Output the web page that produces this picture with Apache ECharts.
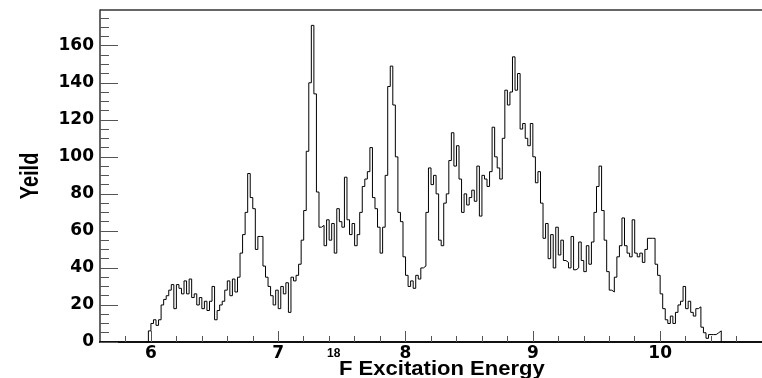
<!DOCTYPE html>
<html>
<head>
<meta charset="utf-8">
<script src="https://cdn.jsdelivr.net/npm/echarts@6/dist/echarts.min.js"></script>
<style>
  html, body { margin: 0; padding: 0; background: #fff; }
  #chart { width: 762px; height: 378px; }
</style>
</head>
<body>
<div id="chart"></div>
<script>
// histogram bins: left edge of first bin and bin width (MeV)
const binStart = 5.98
const binWidth = 0.02
const counts = [
  6, 10, 12, 9, 12, 20, 23, 25, 28, 31, 18, 31, 29, 26, 33, 26, 34, 24, 26, 20,
  24, 18, 22, 17, 22, 30, 12, 17, 20, 22, 28, 33, 25, 34, 27, 35, 48, 58, 70, 91,
  78, 72, 50, 57, 57, 41, 35, 30, 25, 20, 28, 18, 30, 26, 32, 16, 35, 33, 36, 42,
  55, 71, 103, 140, 171, 134, 81, 62, 63, 52, 66, 55, 64, 48, 72, 65, 62, 89, 66, 58,
  64, 52, 58, 70, 84, 88, 92, 105, 78, 72, 62, 48, 62, 90, 138, 149, 128, 100, 70, 65,
  46, 36, 30, 33, 29, 36, 34, 40, 41, 70, 94, 85, 90, 80, 55, 52, 75, 80, 98, 113,
  95, 106, 88, 70, 80, 74, 78, 82, 76, 95, 68, 90, 88, 84, 92, 116, 100, 94, 88, 110,
  136, 128, 135, 154, 136, 145, 115, 118, 110, 106, 118, 100, 86, 92, 75, 56, 64, 45, 58, 40,
  62, 47, 55, 44, 43, 40, 57, 39, 40, 54, 44, 38, 52, 42, 54, 70, 84, 95, 71, 55,
  38, 28, 27, 35, 46, 52, 67, 52, 48, 46, 66, 48, 46, 48, 43, 50, 56, 56, 56, 42,
  36, 26, 18, 12, 10, 14, 10, 16, 20, 22, 30, 18, 22, 16, 14, 18, 19, 8, 5, 2,
  4, 4, 4, 5, 6
]

const xMajorTicks = [6, 7, 8, 9, 10]
const xMinorTicks = [5.8, 6.2, 6.4, 6.6, 6.8, 7.2, 7.4, 7.6, 7.8, 8.2, 8.4, 8.6, 8.8,
  9.2, 9.4, 9.6, 9.8, 10.2, 10.4, 10.6, 10.8]
const yMajorTicks = [0, 20, 40, 60, 80, 100, 120, 140, 160]
const yMinorTicks = [5, 10, 15, 25, 30, 35, 45, 50, 55, 65, 70, 75, 85, 90, 95,
  105, 110, 115, 125, 130, 135, 145, 150, 155, 165, 170, 175]

const xTitle = 'F Excitation Energy'
const xTitleSup = '18'
const yTitle = 'Yeild'

// step points: a zero bin before, one point per bin, a closing zero after
const histData = [[binStart - binWidth, 0]]
counts.forEach((c, i) => {
  histData.push([+(binStart + i * binWidth).toFixed(3), c])
})
histData.push([+(binStart + counts.length * binWidth).toFixed(3), 0])

const labelFont = {
  fontFamily: 'DejaVu Sans',
  fontWeight: 'bold',
  fontSize: 17,
  color: '#000'
}

const chart = echarts.init(document.getElementById('chart'))

chart.setOption({
  animation: false,
  backgroundColor: '#fff',
  grid: { left: 100, right: 0, top: 10, bottom: 36 },
  xAxis: [
    {
      type: 'value',
      min: 5.6,
      max: 10.8,
      position: 'bottom',
      axisLine: { show: true, lineStyle: { color: '#111', width: 2 } },
      axisTick: {
        show: true,
        inside: true,
        length: 11,
        customValues: xMajorTicks,
        lineStyle: { color: '#555', width: 1 }
      },
      axisLabel: { ...labelFont, margin: 3, customValues: xMajorTicks },
      splitLine: { show: false }
    },
    {
      type: 'value',
      min: 5.6,
      max: 10.8,
      position: 'bottom',
      axisLine: { show: false },
      axisTick: {
        show: true,
        inside: true,
        length: 6,
        customValues: xMinorTicks,
        lineStyle: { color: '#555', width: 1 }
      },
      axisLabel: { show: false },
      splitLine: { show: false }
    }
  ],
  yAxis: [
    {
      type: 'value',
      min: 0,
      max: 179.3,
      position: 'left',
      axisLine: { show: true, lineStyle: { color: '#333', width: 1.5 } },
      axisTick: {
        show: true,
        inside: true,
        length: 18,
        customValues: yMajorTicks,
        lineStyle: { color: '#555', width: 1 }
      },
      axisLabel: { ...labelFont, margin: 6, customValues: yMajorTicks },
      splitLine: { show: false }
    },
    {
      type: 'value',
      min: 0,
      max: 179.3,
      position: 'left',
      axisLine: { show: false },
      axisTick: {
        show: true,
        inside: true,
        length: 9,
        customValues: yMinorTicks,
        lineStyle: { color: '#555', width: 1 }
      },
      axisLabel: { show: false },
      splitLine: { show: false }
    }
  ],
  graphic: [
    {
      type: 'line',
      shape: { x1: 100, y1: 10, x2: 762, y2: 10 },
      style: { stroke: '#666', lineWidth: 2 }
    },
    {
      type: 'text',
      x: 31,
      y: 176,
      rotation: Math.PI / 2,
      scaleY: 1.3,
      style: {
        text: yTitle,
        align: 'center',
        verticalAlign: 'middle',
        font: 'bold 20px "Liberation Sans"',
        fill: '#000'
      }
    },
    {
      type: 'text',
      x: 327,
      y: 354,
      style: {
        text: xTitleSup,
        align: 'left',
        verticalAlign: 'middle',
        font: 'bold 12px "Liberation Sans"',
        fill: '#000'
      }
    },
    {
      type: 'text',
      x: 339,
      y: 369,
      scaleX: 1.05,
      style: {
        text: xTitle,
        align: 'left',
        verticalAlign: 'middle',
        font: 'bold 21px "Liberation Sans"',
        fill: '#000'
      }
    }
  ],
  series: [
    {
      type: 'line',
      step: 'end',
      xAxisIndex: 0,
      yAxisIndex: 0,
      data: histData,
      showSymbol: false,
      lineStyle: { color: '#000', width: 1 },
      silent: true
    }
  ]
})
</script>
</body>
</html>
